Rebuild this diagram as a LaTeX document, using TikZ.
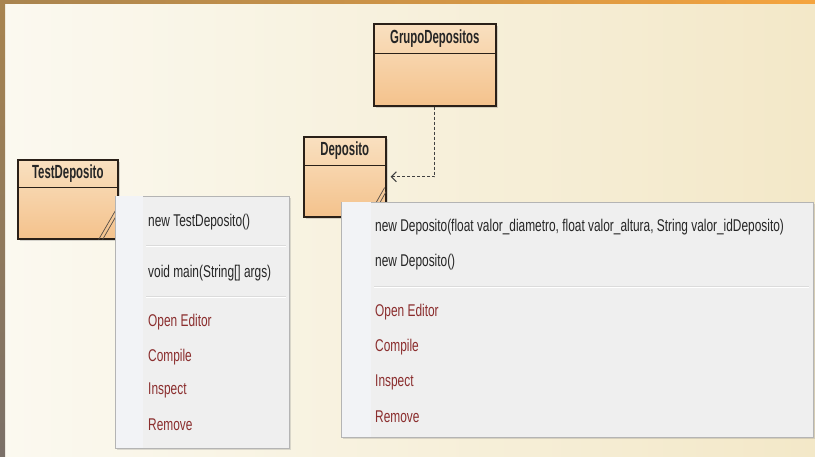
\documentclass[tikz,border=0pt]{standalone}
\usepackage{fontspec}
\setmainfont{Liberation Sans}
\newfontfamily\menufont[FakeStretch=0.7]{Liberation Sans}
\newfontfamily\classfont[FakeStretch=0.6]{Liberation Sans}
\usepackage{xcolor}
\usetikzlibrary{arrows.meta}
\usetikzlibrary{shadows}
\usetikzlibrary{positioning}
\definecolor{bgleft}{HTML}{FBF9F0}
\definecolor{bgright}{HTML}{F3E8C8}
\definecolor{framebrown}{HTML}{A8844F}
\definecolor{frameorange}{HTML}{F5A43E}
\definecolor{framegrey}{HTML}{7A7068}
\definecolor{classline}{HTML}{2A2018}
\definecolor{classtop}{HTML}{F9E0C0}
\definecolor{classbottom}{HTML}{F4C28C}
\definecolor{menubg}{HTML}{EFEFEF}
\definecolor{menugutter}{HTML}{F2F3F6}
\definecolor{menuline}{HTML}{B4B4B4}
\definecolor{itemtext}{HTML}{262626}
\definecolor{itemred}{HTML}{8B2E2E}

\begin{document}
\begin{tikzpicture}[x=1pt,y=-1pt,
  classbox/.style={draw=classline,line width=1.6pt,top color=classtop,bottom color=classbottom,
    anchor=north west,inner sep=0pt,drop shadow={shadow xshift=2.5pt,shadow yshift=-2.5pt,opacity=.3}},
  classname/.style={anchor=north,inner sep=0pt,text=black!85,font=\classfont\bfseries\fontsize{19}{19}\selectfont},
  handle/.style={draw=classline!80,line width=.7pt},
  menubox/.style={draw=menuline,fill=menubg,line width=.8pt,anchor=north west,inner sep=0pt,
    drop shadow={shadow xshift=2pt,shadow yshift=-2pt,opacity=.25}},
  menuitem/.style={anchor=west,inner sep=0pt,font=\menufont\fontsize{17}{20}\selectfont},
  menusep/.style={draw=black!14,line width=.8pt},
  dep/.style={draw=black!75,line width=1.1pt,dash pattern=on 3pt off 2pt,
    -{Straight Barb[length=5pt,width=10pt]},shorten >=4pt}]
  \useasboundingbox (0,0) rectangle (815,457);
  % background and frame
  \shade[left color=bgleft,right color=bgright] (0,0) rectangle (815,457);
  \shade[left color=framebrown,right color=frameorange] (0,0) rectangle (815,4);
  \shade[top color=framebrown,bottom color=framegrey] (0,0) rectangle (5,457);

  % classes
  \node[classbox,minimum width=122pt,minimum height=82pt] (grupo) at (373,23) {};
  \node[classname,minimum height=30pt] (grupohead) at (grupo.north) {GrupoDepositos};
  \draw[classline,line width=1.2pt] (grupohead.south -| grupo.west) -- (grupohead.south -| grupo.east);

  \node[classbox,minimum width=82pt,minimum height=80pt] (deposito) at (303,136) {};
  \node[classname,minimum height=29pt] (depositohead) at (deposito.north) {Deposito};
  \draw[classline,line width=1.2pt] (depositohead.south -| deposito.west) -- (depositohead.south -| deposito.east);
  \draw[handle] ([xshift=-2pt,yshift=30pt]deposito.south east) -- ([xshift=-19pt]deposito.south east);
  \draw[handle] ([xshift=-.5pt,yshift=26pt]deposito.south east) -- ([xshift=-15pt]deposito.south east);

  \node[classbox,minimum width=100pt,minimum height=79pt] (test) at (17,159) {};
  \node[classname,minimum height=28pt] (testhead) at (test.north) {TestDeposito};
  \draw[classline,line width=1.2pt] (testhead.south -| test.west) -- (testhead.south -| test.east);
  \draw[handle] ([xshift=-2pt,yshift=31pt]test.south east) -- ([xshift=-20pt]test.south east);
  \draw[handle] ([xshift=-.5pt,yshift=27pt]test.south east) -- ([xshift=-16pt]test.south east);

  % dependency
  \draw[dep] (grupo.south) |- (deposito.east);

  % popup menu of TestDeposito
  \node[menubox,minimum width=174pt,minimum height=252pt] (testmenu) at (115,196) {};
  \fill[menugutter] ([xshift=.5pt,yshift=-.5pt]testmenu.north west) rectangle ([xshift=28pt,yshift=.5pt]testmenu.south west);
  \foreach \y in {245,296}
    {\draw[menusep] (146,\y) -- (286,\y);
     \draw[white,line width=.8pt] (146,\y+1) -- (286,\y+1);}
  \foreach \t/\y/\c [count=\i] in {{new TestDeposito()}/222/itemtext,
    {void main(String[] args)}/273/itemtext,
    Open Editor/322/itemred, Compile/357/itemred,
    Inspect/390/itemred, Remove/425/itemred}
    {\node[menuitem,text=\c] (testitem\i) at (148,\y) {\t};}

  % popup menu of Deposito
  \node[menubox,minimum width=472pt,minimum height=235pt] (depomenu) at (341,202) {};
  \fill[menugutter] ([xshift=.5pt,yshift=-.5pt]depomenu.north west) rectangle ([xshift=30pt,yshift=.5pt]depomenu.south west);
  \draw[menusep] (374,286) -- (809,286);
  \draw[white,line width=.8pt] (374,287) -- (809,287);
  \foreach \t/\y/\c [count=\i] in {{new Deposito(float valor\_diametro, float valor\_altura, String valor\_idDeposito)}/227/itemtext,
    {new Deposito()}/262/itemtext,
    Open Editor/312/itemred, Compile/347/itemred,
    Inspect/382/itemred, Remove/417/itemred}
    {\node[menuitem,text=\c] (depoitem\i) at (375,\y) {\t};}
\end{tikzpicture}
\end{document}
